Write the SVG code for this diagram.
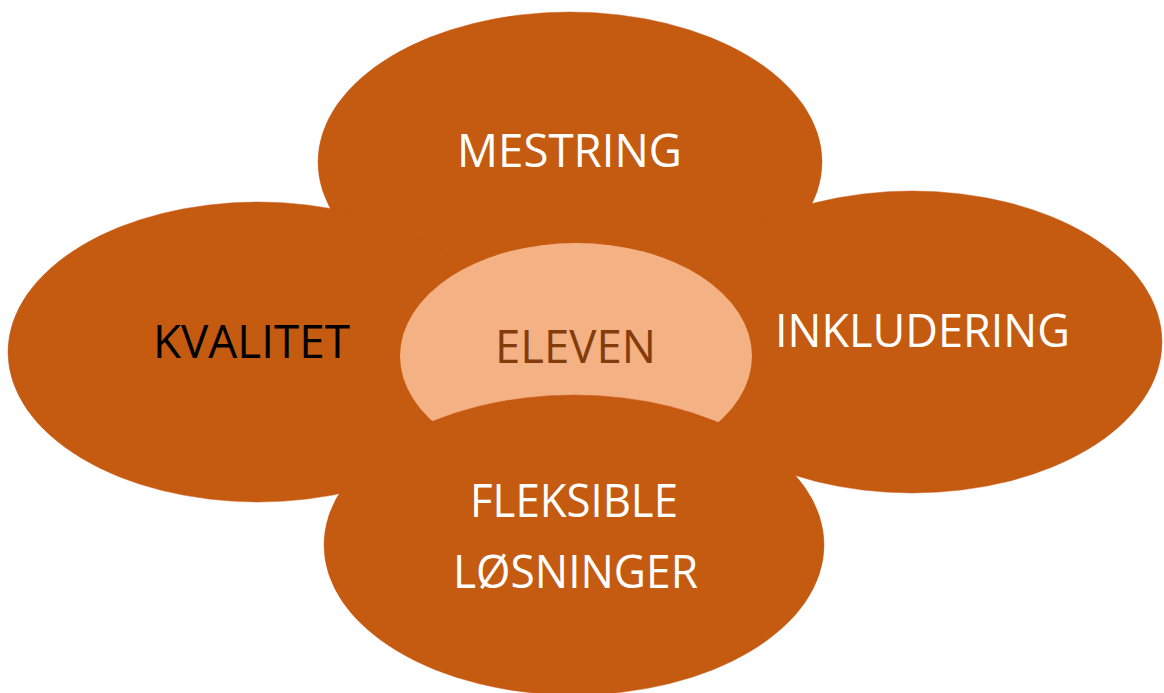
<svg xmlns="http://www.w3.org/2000/svg" width="1164" height="693" viewBox="0 0 1164 693">
<style>
.petal{fill:#C55A11;stroke:#CB5416;stroke-width:0.8;stroke-opacity:0.6}
.t{font-family:"Open Sans","Liberation Sans",sans-serif;font-size:45px;text-anchor:middle}
.w{fill:#FFFFFF}
</style>
<rect width="1164" height="693" fill="#FFFFFF"/>
<g id="node-mestring">
<ellipse class="petal" cx="570" cy="162" rx="252" ry="150"/>
<text class="t w" x="569.5" y="167" textLength="225" lengthAdjust="spacingAndGlyphs">MESTRING</text>
</g>
<g id="node-kvalitet">
<ellipse class="petal" cx="258" cy="352" rx="250" ry="150"/>
<text class="t" x="251.5" y="358" fill="#000000" textLength="197" lengthAdjust="spacingAndGlyphs">KVALITET</text>
</g>
<g id="node-inkludering">
<ellipse class="petal" cx="912" cy="342" rx="250" ry="151"/>
<text class="t w" x="922.5" y="347" textLength="295" lengthAdjust="spacingAndGlyphs">INKLUDERING</text>
</g>
<g id="node-eleven">
<ellipse cx="576" cy="356" rx="176" ry="113" fill="#F4B183"/>
<text class="t" x="575.5" y="363" fill="#843C0C" textLength="161" lengthAdjust="spacingAndGlyphs">ELEVEN</text>
</g>
<g id="node-fleksible">
<ellipse class="petal" cx="574" cy="545" rx="250" ry="150"/>
<text class="t w" x="574" y="517" textLength="208" lengthAdjust="spacingAndGlyphs">FLEKSIBLE</text>
<text class="t w" x="575.5" y="588" textLength="245" lengthAdjust="spacingAndGlyphs">LØSNINGER</text>
</g>
<g id="connectors"/>
</svg>
